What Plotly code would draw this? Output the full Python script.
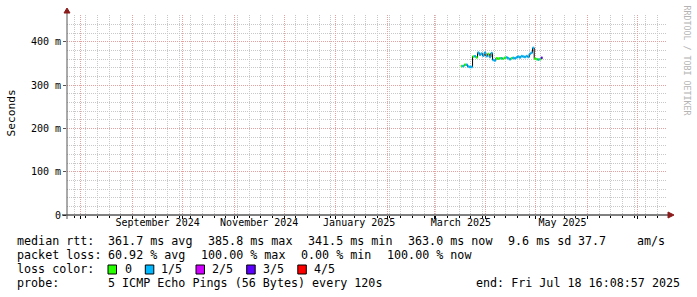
import plotly.graph_objects as go
import pandas as pd

# ---------------- data ----------------
range_start = "2024-07-23 16:08:57"
range_end = "2025-07-18 16:08:57"

sample_days = list(pd.date_range("2025-03-17", "2025-05-04", freq="D"))
median_ms = [344, 344, 347, 347, 343, 342, 342, 366, 367, 364,
             375, 370, 373, 368, 375, 367, 372, 365, 374, 358,
             357, 362, 361, 362, 362, 361, 363, 364, 362, 360,
             362, 363, 362, 364, 366, 364, 367, 366, 365, 367,
             365, 372, 375, 386, 361, 360, 359, 360, 363]
lost_pings = [0, 1, 0, 1, 1, 1, 1, 0, 1, 0,
              1, 1, 1, 1, 1, 1, 0, 1, 1, 1,
              1, 0, 0, 0, 1, 0, 0, 1, 1, 1,
              0, 1, 1, 1, 1, 1, 1, 1, 1, 1,
              1, 1, 1, 1, 0, 0, 1, 0, 3]

loss_labels = ["0", "1/5", "2/5", "3/5", "4/5"]
loss_colors = ["#26ff00", "#00b8ff", "#d000ff", "#5e00ff", "#ff0000"]

month_grid_start = "2024-08-01"
week_grid_start = "2024-07-28"
label_dates = ["2024-09-16", "2024-11-16", "2025-01-15", "2025-03-17", "2025-05-17"]
label_texts = ["September 2024", "November 2024", "January 2025", "March 2025", "May 2025"]

y_tick_vals = [0, 0.1, 0.2, 0.3, 0.4]
y_tick_text = ["0", "100 m", "200 m", "300 m", "400 m"]

rtt_items = ["median rtt:", "361.7 ms avg", "385.8 ms max", "341.5 ms min",
             "363.0 ms now", "9.6 ms sd", "37.7", "am/s"]
loss_items = ["packet loss:", "60.92 % avg", "100.00 % max", "0.00 % min", "100.00 % now"]
probe_text = "5 ICMP Echo Pings (56 Bytes) every 120s"
end_text = "end: Fri Jul 18 16:08:57 2025"

# ---------------- layout helpers ----------------
W, H = 697, 297
L, R, T, B = 67, 30, 15, 82
PW = W - L - R
PH = H - T - B
MONO = "DejaVu Sans Mono"


def px(x):
    return (x - L) / PW


def py(y):
    return (T + PH - y) / PH


fig = go.Figure()

# black median line (step)
one_day = pd.Timedelta(days=1)
bx = sample_days + [sample_days[-1] + one_day]
by = [v / 1000 for v in median_ms] + [median_ms[-1] / 1000]
fig.add_trace(go.Scatter(x=bx, y=by, mode="lines", line=dict(color="#000000", width=1, shape="hv"),
                         hoverinfo="skip", showlegend=False))

# loss-coloured median segments
for k, col in enumerate(loss_colors):
    xs, ys = [], []
    for d, v, lp in zip(sample_days, median_ms, lost_pings):
        if lp == k:
            xs += [d, d + one_day, None]
            ys += [v / 1000, v / 1000, None]
    if xs:
        fig.add_trace(go.Scatter(x=xs, y=ys, mode="lines", line=dict(color=col, width=2.5),
                                 hoverinfo="skip", showlegend=False))

# helper trace for label axis
fig.add_trace(go.Scatter(x=label_dates, y=[None] * len(label_dates), xaxis="x2",
                         mode="markers", showlegend=False, hoverinfo="skip"))

GRID = "#c8c8c8"
MGRID = "#e6a0a0"
DASH = "1px,1px"

fig.update_layout(
    width=W, height=H,
    margin=dict(l=L, r=R, t=T, b=B),
    paper_bgcolor="white", plot_bgcolor="white",
    showlegend=False,
    xaxis=dict(
        type="date", range=[range_start, range_end],
        tickmode="linear", tick0=month_grid_start, dtick="M1",
        showticklabels=False, showgrid=True, gridcolor=MGRID, griddash=DASH, gridwidth=1,
        ticks="outside", ticklen=3, tickcolor="#000000",
        minor=dict(tickmode="linear", tick0=week_grid_start, dtick=7 * 86400000,
                   showgrid=True, gridcolor=GRID, griddash=DASH, gridwidth=1,
                   ticks="outside", ticklen=2, tickcolor="#000000"),
        zeroline=False, showline=False, fixedrange=True,
    ),
    xaxis2=dict(
        type="date", range=[range_start, range_end], overlaying="x", anchor="y", side="bottom",
        tickmode="array", tickvals=label_dates, ticktext=label_texts,
        showgrid=False, ticks="", showline=False, zeroline=False,
        tickfont=dict(family=MONO, size=10, color="#000000"),
    ),
    yaxis=dict(
        range=[0, 0.462],
        tickmode="array", tickvals=y_tick_vals, ticktext=y_tick_text,
        showgrid=True, gridcolor=MGRID, griddash=DASH, gridwidth=1,
        minor=dict(tickmode="linear", tick0=0, dtick=0.02, showgrid=True,
                   gridcolor=GRID, griddash=DASH, gridwidth=1),
        ticks="outside", ticklen=3, tickcolor="#555555",
        tickfont=dict(family=MONO, size=10, color="#000000"),
        zeroline=False, showline=False, fixedrange=True,
    ),
)

shapes = []
# axis lines
shapes.append(dict(type="line", xref="paper", yref="paper", x0=px(62), x1=px(669), y0=0, y1=0,
                   line=dict(color="#000000", width=1)))
shapes.append(dict(type="line", xref="paper", yref="paper", x0=0, x1=0, y0=py(219), y1=py(12),
                   line=dict(color="#555555", width=1)))
# arrows
shapes.append(dict(type="path", xref="paper", yref="paper",
                   path=f"M {px(668)} {py(212)} L {px(674)} {py(215)} L {px(668)} {py(218)} Z",
                   fillcolor="#8b1a1a", line=dict(color="#8b1a1a", width=1)))
shapes.append(dict(type="path", xref="paper", yref="paper",
                   path=f"M {px(64)} {py(13)} L {px(67)} {py(8)} L {px(70)} {py(13)} Z",
                   fillcolor="#8b1a1a", line=dict(color="#8b1a1a", width=1)))

annotations = []


def text(x, y, s, anchor="left", size=11.7, color="#000000", angle=0):
    annotations.append(dict(x=px(x), y=py(y), xref="paper", yref="paper", text=s, showarrow=False,
                            xanchor=anchor, yanchor="middle", textangle=angle,
                            font=dict(family=MONO, size=size, color=color), borderpad=0))


# unit label and watermark
text(11, 113.5, "Seconds", anchor="center", size=11.2, angle=-90)
text(686.5, 60, "RRDTOOL / TOBI OETIKER", anchor="center", size=8.3, color="#b4b4b4", angle=90)

# legend line 1
for s, x in zip(rtt_items, [16, 107, 207, 307, 407, 506.5, 576.5, 636]):
    text(x, 241, s)
# legend line 2
for s, x in zip(loss_items, [16, 107, 200, 300, 386]):
    text(x, 255, s)
# legend line 3
text(16, 269, "loss color:")
box_x = [108, 145.3, 196, 246.7, 297.8]
lab_x = [123.6, 160, 210.7, 262.2, 313.3]
for lab, col, bxp, lxp in zip(loss_labels, loss_colors, box_x, lab_x):
    shapes.append(dict(type="rect", xref="paper", yref="paper",
                       x0=px(bxp), x1=px(bxp + 8.5), y0=py(274), y1=py(265),
                       fillcolor=col, line=dict(color="#000000", width=1)))
    text(lxp, 269, lab)
# legend line 4
text(16, 283, "probe:")
text(107, 283, probe_text)
text(681, 283, end_text, anchor="right")

fig.update_layout(shapes=shapes, annotations=annotations)
fig.write_html("out.html")
